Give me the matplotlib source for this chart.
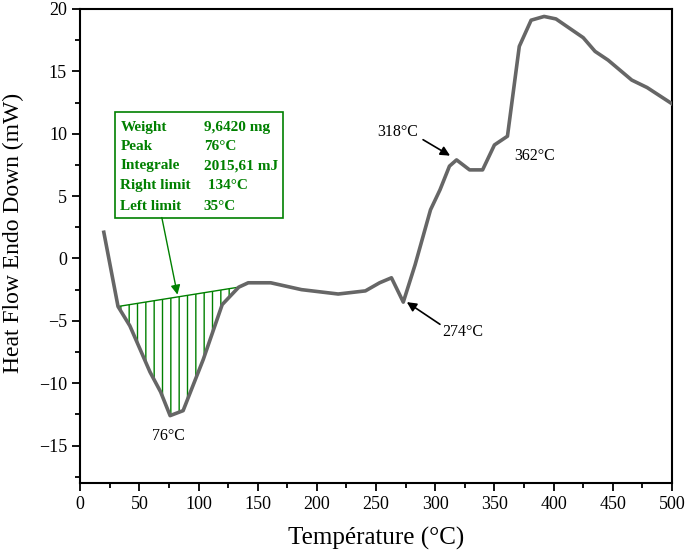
import numpy as np
import matplotlib
matplotlib.use('Agg')
import matplotlib.pyplot as plt
from matplotlib.patches import Rectangle
from matplotlib.ticker import MultipleLocator

plt.rcParams['font.family'] = ['Liberation Serif', 'DejaVu Serif']
plt.rcParams['hatch.linewidth'] = 1.0

# DSC curve
temp = np.array([20, 32, 42, 59, 68, 76, 87, 104, 120, 134, 142, 161, 187, 218,
                 241, 253, 263, 273, 283, 296, 304, 312, 318, 329, 340, 350, 361,
                 371, 381, 392, 402, 425, 435, 446, 466, 479, 500])
heat_flow = np.array([2.1, -3.85, -5.4, -9.1, -10.7, -12.6, -12.2, -8.1, -3.7, -2.3,
                      -1.95, -1.95, -2.5, -2.85, -2.6, -1.95, -1.55, -3.5, -0.5, 3.9,
                      5.5, 7.4, 7.9, 7.1, 7.1, 9.1, 9.8, 17.0, 19.1, 19.4, 19.2,
                      17.7, 16.6, 15.9, 14.3, 13.7, 12.4])

# integration limits / baseline of the endotherm
base_x = [32, 134]
base_y = [-3.85, -2.3]

info_labels = ['Weight', 'Peak', 'Integrale', 'Right limit', 'Left limit']
info_values = ['9,6420 mg', '76°C', '2015,61 mJ', ' 134°C', '35°C']

fig = plt.figure(figsize=(6.85, 5.6), dpi=100)
ax = fig.add_axes([0.117, 0.1375, 0.864, 0.8465])

ax.plot(temp, heat_flow, color='#666666', lw=2.6, zorder=3)

m = (temp >= base_x[0]) & (temp <= base_x[1])
xs = temp[m]
bl = np.interp(xs, base_x, base_y)
ax.fill_between(xs, heat_flow[m], bl, facecolor='none', edgecolor='green',
                hatch='||', linewidth=0, zorder=2)
ax.plot(base_x, base_y, color='green', lw=1.0, zorder=2)

# info box
ax.add_patch(Rectangle((29.6, 3.28), 141.9, 8.48, fill=False, edgecolor='green',
                       lw=1.2, zorder=4))
rows_y = [10.48, 8.96, 7.44, 5.84, 4.16]
for lab, val, yy in zip(info_labels, info_values, rows_y):
    ax.text(34, yy, lab, color='green', fontsize=11, fontweight='bold',
            va='center', ha='left')
    ax.text(104.5, yy, val, color='green', fontsize=11, fontweight='bold',
            va='center', ha='left')
ax.annotate('', xy=(82.2, -2.9), xytext=(69, 3.28),
            arrowprops=dict(arrowstyle='-|>', color='green', lw=1.0,
                            mutation_scale=14, shrinkA=0, shrinkB=0))

# peak labels
ax.text(74.3, -14.2, '76°C', fontsize=11.5, ha='center', va='center')
ax.text(384, 8.2, '362°C', fontsize=11.5, ha='center', va='center')
ax.text(268.6, 10.1, '318°C', fontsize=11.5, ha='center', va='center')
ax.text(323.5, -5.9, '274°C', fontsize=11.5, ha='center', va='center')
ax.annotate('', xy=(312.5, 8.24), xytext=(289.7, 9.52),
            arrowprops=dict(arrowstyle='-|>', color='black', lw=1.2,
                            mutation_scale=14, shrinkA=0, shrinkB=0))
ax.annotate('', xy=(276, -3.5), xytext=(304, -5.28),
            arrowprops=dict(arrowstyle='-|>', color='black', lw=1.2,
                            mutation_scale=14, shrinkA=0, shrinkB=0))

ax.set_xlim(0, 500)
ax.set_ylim(-18, 20)
ax.xaxis.set_major_locator(MultipleLocator(50))
ax.xaxis.set_minor_locator(MultipleLocator(25))
ax.yaxis.set_major_locator(MultipleLocator(5))
ax.yaxis.set_minor_locator(MultipleLocator(2.5))
ax.tick_params(which='both', direction='out', width=1.3, labelsize=13)
ax.tick_params(which='major', length=6)
ax.tick_params(which='minor', length=3.5)
for s in ax.spines.values():
    s.set_linewidth(1.5)

ax.set_xlabel('Température (°C)', fontsize=18, labelpad=10)
ax.set_ylabel('Heat Flow Endo Down (mW)', fontsize=17)
ax.yaxis.set_label_coords(-0.095, 0.527)

fig.savefig('out.png', dpi=100)
